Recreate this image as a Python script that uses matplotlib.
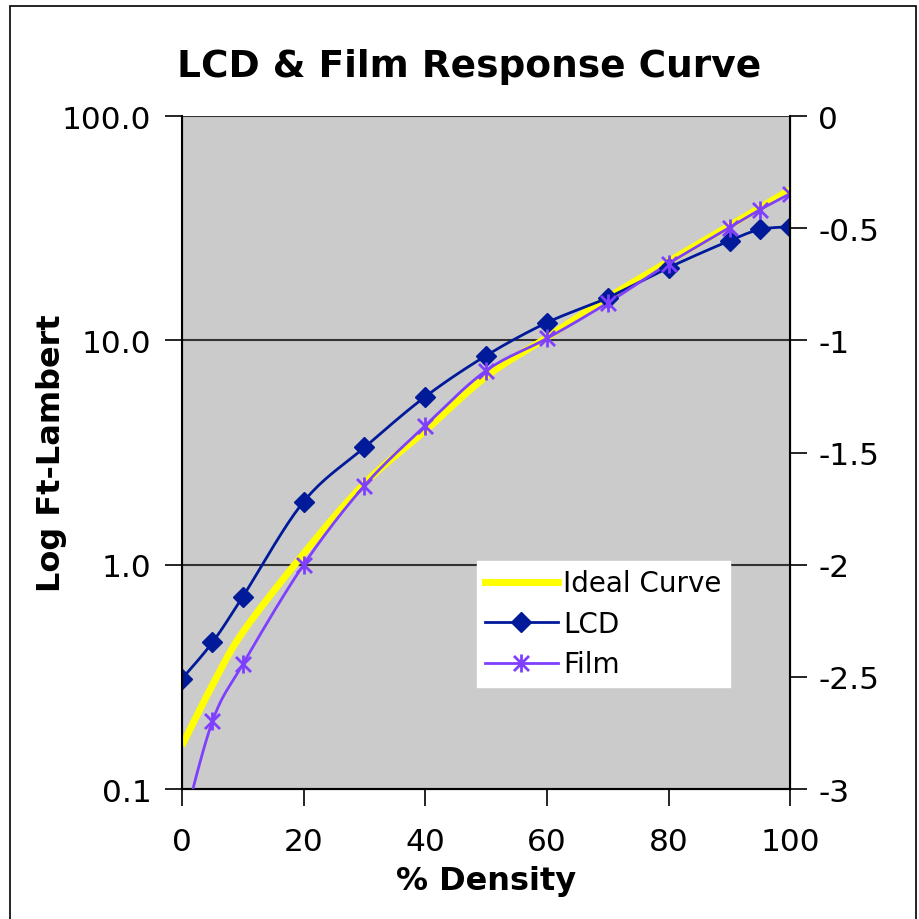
import numpy as np
import matplotlib
matplotlib.use("Agg")
import matplotlib.pyplot as plt
from matplotlib.path import Path
from matplotlib.patches import Rectangle
from matplotlib.lines import Line2D
from matplotlib.ticker import FixedLocator, FuncFormatter, NullLocator

# data
density = [0, 5, 10, 20, 30, 40, 50, 60, 70, 80, 90, 95, 100]
ideal = [0.156, 0.29, 0.50, 1.12, 2.3, 3.96, 6.9, 10.3, 15.5, 22.5, 32.5, 39.0, 47.0]
lcd = [0.31, 0.45, 0.72, 1.91, 3.33, 5.61, 8.55, 12.0, 15.5, 21.1, 27.8, 31.2, 32.1]
film = [0.065, 0.20, 0.36, 1.0, 2.25, 4.17, 7.33, 10.2, 14.7, 22.0, 31.8, 38.2, 45.1]

yticks_left = [0.1, 1.0, 10.0, 100.0]
yticks_right = [0, -0.5, -1, -1.5, -2, -2.5, -3]


def smooth(xs, ys, n=20):
    # catmull-rom through the points in (x, log y) space, like excel's smoothed line
    x = np.asarray(xs, float)
    y = np.log10(np.asarray(ys, float))
    px = np.concatenate([[x[0]], x, [x[-1]]])
    py = np.concatenate([[y[0]], y, [y[-1]]])
    ox, oy = [], []
    t = np.linspace(0, 1, n, endpoint=False)
    for i in range(1, len(px) - 2):
        for p, out in ((px, ox), (py, oy)):
            p0, p1, p2, p3 = p[i - 1], p[i], p[i + 1], p[i + 2]
            out.extend(0.5 * ((2 * p1) + (-p0 + p2) * t
                              + (2 * p0 - 5 * p1 + 4 * p2 - p3) * t ** 2
                              + (-p0 + 3 * p1 - 3 * p2 + p3) * t ** 3))
    ox.append(x[-1])
    oy.append(y[-1])
    return np.array(ox), 10 ** np.array(oy)


# excel style star: an x with a vertical bar
star = Path([(-1, -1), (1, 1), (-1, 1), (1, -1), (0, -1.2), (0, 1.2)],
            [Path.MOVETO, Path.LINETO, Path.MOVETO, Path.LINETO, Path.MOVETO, Path.LINETO])

fig = plt.figure(figsize=(9.19, 9.20), dpi=100)
ax = fig.add_axes([0.198, 0.1413, 0.662, 0.7315])
ax.set_facecolor("#cbcbcb")

yellow = "#ffff00"
navy = "#001a99"
violet = "#7f3fff"

sx, sy = smooth(density, ideal)
ax.plot(sx, sy, color=yellow, lw=5, solid_capstyle="butt", zorder=3)
sx, sy = smooth(density, lcd)
ax.plot(sx, sy, color=navy, lw=2, zorder=4)
ax.plot(density, lcd, ls="none", marker="D", ms=10, color=navy, zorder=5)
sx, sy = smooth(density, film)
ax.plot(sx, sy, color=violet, lw=2, zorder=4)
ax.plot(density, film, ls="none", marker=star, ms=13, mew=2, color=violet, zorder=5)

ax.set_yscale("log")
ax.set_xlim(0, 100)
ax.set_ylim(0.1, 100)
ax.yaxis.set_major_locator(FixedLocator(yticks_left))
ax.yaxis.set_minor_locator(NullLocator())
ax.yaxis.set_major_formatter(FuncFormatter(lambda v, p: "%.1f" % v))
ax.set_xticks(range(0, 101, 20))
ax.grid(axis="y", color="#333333", lw=1.5)
ax.tick_params(labelsize=22.5, length=12, width=1.2, direction="out")
ax.tick_params(axis="x", pad=15)
ax.tick_params(axis="y", pad=10)
ax.spines["top"].set_visible(False)
for s in ("left", "bottom"):
    ax.spines[s].set_linewidth(1.5)
ax.set_xlabel("% Density", fontsize=23, fontweight="bold", labelpad=7)
ax.set_ylabel("Log Ft-Lambert", fontsize=23, fontweight="bold", labelpad=-4)

ax2 = ax.twinx()
ax2.set_ylim(-3, 0)
ax2.set_yticks(yticks_right)
ax2.set_yticklabels(["0", "-0.5", "-1", "-1.5", "-2", "-2.5", "-3"])
ax2.tick_params(labelsize=22.5, length=12, width=1.2, pad=8)
ax2.spines["top"].set_visible(False)
ax2.spines["right"].set_linewidth(1.5)

handles = [Line2D([], [], color=yellow, lw=5),
           Line2D([], [], color=navy, lw=2, marker="D", ms=10),
           Line2D([], [], color=violet, lw=2, marker=star, ms=13, mew=2)]
leg = ax2.legend(handles, ["Ideal Curve", "LCD", "Film"], loc="lower left",
                 bbox_to_anchor=(0.485, 0.152), fontsize=20, frameon=True,
                 fancybox=False, framealpha=1, edgecolor="white",
                 handlelength=2.6, borderpad=0.3, labelspacing=0.45,
                 handletextpad=0.2, borderaxespad=0)

fig.text(0.511, 0.927, "LCD & Film Response Curve", ha="center", va="center",
         fontsize=27, fontweight="bold")
fig.patches.append(Rectangle((10 / 919, -0.02), 906 / 919, 1.02 - 7 / 920,
                             transform=fig.transFigure, fill=False, lw=1.2,
                             edgecolor="black"))

fig.savefig("out.png", dpi=100)
